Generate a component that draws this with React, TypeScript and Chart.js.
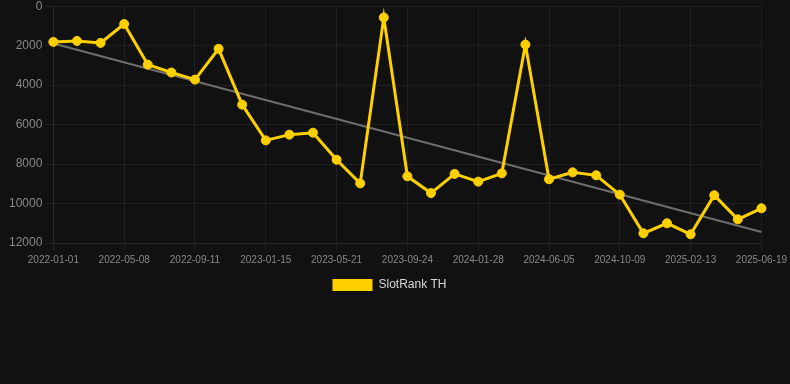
import React, { useEffect, useRef } from "react";
import { Chart, registerables } from "chart.js";

Chart.register(...registerables);

const categories: string[] = [
  "2022-01-01", "2022-02-12", "2022-03-26",
  "2022-05-08", "2022-06-19", "2022-07-31",
  "2022-09-11", "2022-10-23", "2022-12-04",
  "2023-01-15", "2023-02-26", "2023-04-09",
  "2023-05-21", "2023-07-02", "2023-08-13",
  "2023-09-24", "2023-11-05", "2023-12-17",
  "2024-01-28", "2024-03-10", "2024-04-23",
  "2024-06-05", "2024-07-17", "2024-08-28",
  "2024-10-09", "2024-11-20", "2025-01-01",
  "2025-02-13", "2025-03-27", "2025-05-08",
  "2025-06-19",
];

const slotRankTH: number[] = [
  1810, 1760, 1860, 900, 2960, 3360, 3720, 2160, 4990, 6800,
  6510, 6410, 7780, 8980, 575, 8620, 9470, 8500, 8890, 8470,
  1945, 8770, 8420, 8570, 9550, 11510, 11000, 11560, 9580, 10800,
  10240,
];

const trendStart = 1890;
const trendEnd = 11440;

const yTicks: number[] = [0, 2000, 4000, 6000, 8000, 10000, 12000];

const YELLOW = "#FFD000";
const BG = "#111111";
const FONT = "Liberation Sans, Arial, sans-serif";

export default function App() {
  const ref = useRef<HTMLCanvasElement | null>(null);

  useEffect(() => {
    document.body.style.margin = "0";
    document.body.style.background = BG;
    if (!ref.current) return;
    const trend = categories.map((_, i) =>
      i === 0 ? trendStart : i === categories.length - 1 ? trendEnd : null
    );
    const chart = new Chart(ref.current, {
      type: "line",
      data: {
        labels: categories,
        datasets: [
          {
            label: "SlotRank TH",
            data: slotRankTH,
            borderColor: YELLOW,
            backgroundColor: YELLOW,
            borderWidth: 3,
            pointRadius: 4.5,
            pointBorderWidth: 1,
            pointBackgroundColor: YELLOW,
            pointBorderColor: YELLOW,
            tension: 0,
          },
          {
            label: "Trend",
            data: trend,
            borderColor: "#6e6e6e",
            backgroundColor: "#6e6e6e",
            borderWidth: 2,
            pointRadius: 0,
            spanGaps: true,
            tension: 0,
          },
        ],
      },
      options: {
        animation: false,
        responsive: true,
        maintainAspectRatio: false,
        layout: { padding: { left: 6, right: 17 } },
        plugins: {
          legend: {
            position: "bottom",
            labels: {
              color: "#d8d8d8",
              font: { size: 12, family: FONT },
              boxWidth: 40,
              boxHeight: 12,
              generateLabels: (c) =>
                Chart.defaults.plugins.legend.labels
                  .generateLabels(c)
                  .filter((it) => it.datasetIndex === 0)
                  .map((it) => ({ ...it, lineWidth: 0 })),
            },
          },
          tooltip: { enabled: false },
        },
        scales: {
          x: {
            grid: { color: "rgba(255,255,255,0.06)", tickLength: 8 },
            border: { color: "rgba(255,255,255,0.06)" },
            ticks: {
              color: "#888888",
              font: { size: 10, family: FONT },
              autoSkip: false,
              maxRotation: 0,
              minRotation: 0,
              callback: function (_v, i) {
                return i % 3 === 0 ? categories[i] : null;
              },
            },
          },
          y: {
            reverse: true,
            min: 0,
            max: 12000,
            afterBuildTicks: (scale) => {
              scale.ticks = yTicks.map((v) => ({ value: v }));
            },
            grid: { color: "rgba(255,255,255,0.06)", tickLength: 8 },
            border: { color: "rgba(255,255,255,0.06)" },
            ticks: {
              color: "#888888",
              font: { size: 12, family: FONT },
              callback: (v) => String(v),
            },
          },
        },
      },
    });
    return () => chart.destroy();
  }, []);

  return (
    <div
      style={{
        width: 790,
        height: 305,
        marginTop: -4,
        position: "relative",
        background: BG,
      }}
    >
      <canvas ref={ref} />
    </div>
  );
}
